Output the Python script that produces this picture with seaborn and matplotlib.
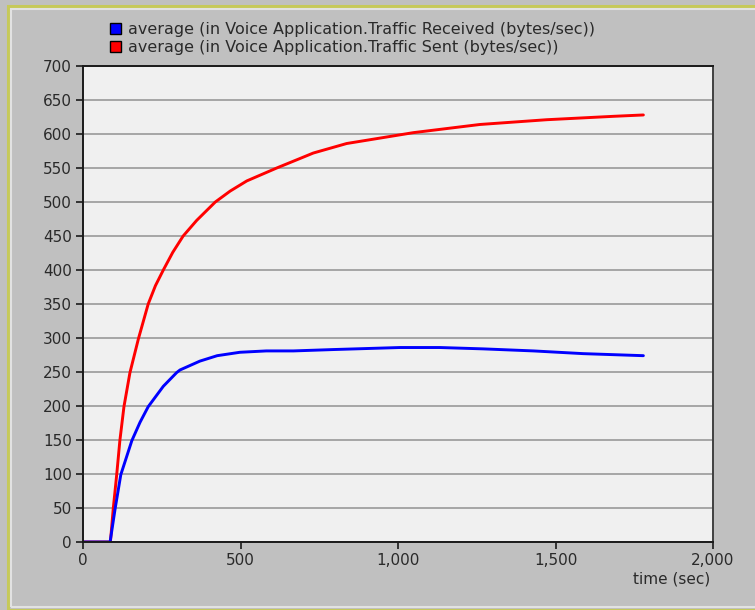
import matplotlib
matplotlib.use("Agg")
import matplotlib.pyplot as plt
from matplotlib.patches import Patch, Rectangle
from matplotlib.ticker import FuncFormatter
import pandas as pd
import seaborn as sns

# Average traffic sent (bytes/sec) over simulation time (sec)
time_sent = [0, 87, 96, 107, 117, 130, 149, 176, 207, 230, 255, 285, 318, 361,
             420, 467, 520, 615, 689, 731, 837, 1049, 1260, 1472, 1684, 1779]
traffic_sent = [0, 0, 49, 99, 149, 199, 249, 299, 350, 377, 400, 426, 450, 473,
                500, 516, 531, 550, 564, 572, 586, 602, 614, 621, 626, 628]

# Average traffic received (bytes/sec) over simulation time (sec)
time_recv = [0, 86, 102, 120, 155, 181, 207, 255, 297, 308, 371, 426, 498,
             582, 668, 794, 1006, 1133, 1271, 1430, 1588, 1779]
traffic_recv = [0, 0, 49, 99, 149, 176, 199, 229, 249, 253, 266, 274, 279,
                281, 281, 283, 286, 286, 284, 281, 277, 274]

label_recv = "average (in Voice Application.Traffic Received (bytes/sec))"
label_sent = "average (in Voice Application.Traffic Sent (bytes/sec))"

x_ticks = [0, 500, 1000, 1500, 2000]
y_ticks = list(range(0, 701, 50))

df = pd.concat([
    pd.DataFrame({"time": time_sent, "value": traffic_sent, "series": label_sent}),
    pd.DataFrame({"time": time_recv, "value": traffic_recv, "series": label_recv}),
])

sns.set_theme(style="white")
plt.rcParams["font.family"] = ["DejaVu Sans"]
FS = 11
TXT = "#2a2a2a"

fig = plt.figure(figsize=(7.55, 6.1), dpi=100, facecolor="#c0c0c0")

# window frame
fig.patches.append(Rectangle((8 / 755, 0), 1, 1 - 6 / 610, transform=fig.transFigure,
                             facecolor="none", edgecolor="#c6c95a", lw=2.2, zorder=0))
fig.patches.append(Rectangle((11 / 755, 3 / 610), 1, 1 - 12 / 610, transform=fig.transFigure,
                             facecolor="none", edgecolor="#e2e2e2", lw=1.5, zorder=0))

ax = fig.add_axes([83 / 755, 1 - 542 / 610, 630 / 755, 476 / 610])
ax.set_facecolor("#f0f0f0")

colors = {label_sent: "#ff0000", label_recv: "#0000ff"}
sns.lineplot(data=df, x="time", y="value", hue="series",
             hue_order=[label_sent, label_recv], palette=colors,
             linewidth=2.1, ax=ax, legend=False, estimator=None, sort=False)

ax.set_xlim(0, 2000)
ax.set_ylim(0, 700)
ax.set_xticks(x_ticks)
ax.set_yticks(y_ticks)
ax.xaxis.set_major_formatter(FuncFormatter(lambda v, p: f"{int(v):,}"))
ax.yaxis.grid(True, color="#a0a0a0", lw=1.3)
ax.xaxis.grid(False)
ax.set_axisbelow(True)

for s in ax.spines.values():
    s.set_color("#1a1a1a")
    s.set_linewidth(1.4)
ax.spines["right"].set_color("#404040")

ax.tick_params(axis="both", which="major", direction="out", length=5, width=1.2,
               color="#1a1a1a", labelsize=FS, labelcolor=TXT, pad=3,
               left=True, bottom=True)
ax.set_xlabel("")
ax.set_ylabel("")
fig.text(710 / 755, 1 - 579 / 610, "time (sec)", ha="right", va="center",
         fontsize=FS, color=TXT)

handles = [Patch(facecolor="#0000ff", edgecolor="#000000", lw=1.0),
           Patch(facecolor="#ff0000", edgecolor="#000000", lw=1.0)]
fig.legend(handles, [label_recv, label_sent], loc="upper left",
           bbox_to_anchor=(102 / 755, 1 - 14 / 610), frameon=False,
           fontsize=11.5, handlelength=0.72, handleheight=0.72, handletextpad=0.42,
           labelspacing=0.18, borderpad=0, labelcolor=TXT)

fig.savefig("out.png", dpi=100, facecolor=fig.get_facecolor())
